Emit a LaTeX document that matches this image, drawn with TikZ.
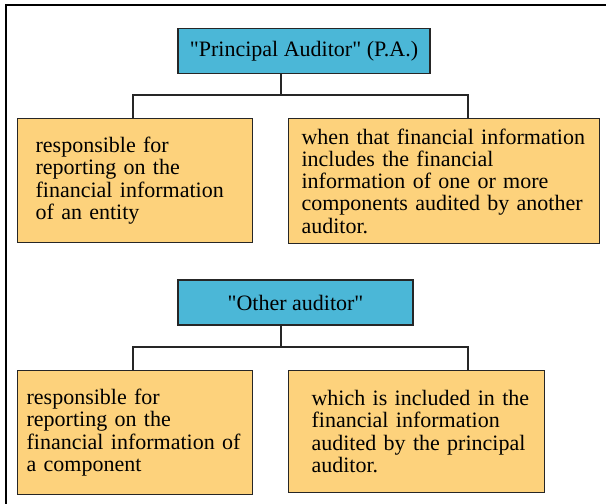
\documentclass[tikz,border=0pt]{standalone}
\usepackage{fontspec}
\setmainfont{Liberation Serif}
\usetikzlibrary{positioning}
\definecolor{headblue}{RGB}{75,183,215}
\definecolor{notefill}{RGB}{253,210,124}

\begin{document}
\begin{tikzpicture}[x=0.5pt,y=-0.5pt,
    every node/.style={font=\fontsize{11}{11.15}\selectfont},
    head/.style={draw=black!85,fill=headblue,line width=0.6pt,inner sep=0pt,minimum height=22.5pt},
    note/.style={draw=black!85,fill=notefill,line width=0.6pt,align=left,anchor=north west,inner ysep=0pt},
    link/.style={draw=black!85,line width=0.6pt},
    frame/.style={draw=black,line width=0.7pt}]
            \useasboundingbox (0,0) rectangle (606,504);
            \draw[frame] (606,5) -- (6,5) -- (6,504);

            \node[head, minimum width=126pt] (PA) at (304,51) {\textquotedbl Principal Auditor\textquotedbl\ (P.A.)};
            \node[note, text width=99.5pt, inner xsep=9pt, minimum height=62pt] (PAentity) at (17,118)
                {responsible for\\reporting on the\\financial information\\of an entity};
            \node[note, text width=142.5pt, inner xsep=6.5pt, minimum height=62.5pt] (PAcomp) at (288,118)
                {when that financial information\\includes the financial\\information of one or more\\components audited by another\\auditor.};

            \node[head, minimum width=117.5pt] (OA) at (295.5,302.5) {\textquotedbl Other auditor\textquotedbl};
            \node[note, text width=108.5pt, inner xsep=4.5pt, minimum height=62pt] (OAcomp) at (17,370)
                {responsible for\\reporting on the\\\mbox{financial information of}\\a component};
            \node[note, text width=105pt, inner xsep=11.5pt, minimum height=61pt] (OAincl) at (288,370)
                {\mbox{which is included in the}\\financial information\\\mbox{audited by the principal}\\auditor.\\[4pt]};

            \coordinate (PAmid) at (281,95);
            \coordinate (PAleft) at (133,95);
            \coordinate (PAright) at (468,95);
            \coordinate (OAmid) at (281,347);
            \coordinate (OAleft) at (133,347);
            \coordinate (OAright) at (468,347);

            \draw[link] (PA.south -| PAmid) -- (PAmid);
            \draw[link] (PAleft |- PAentity.north) -- (PAleft) -- (PAright) -- (PAright |- PAcomp.north);
            \draw[link] (OA.south -| OAmid) -- (OAmid);
            \draw[link] (OAleft |- OAcomp.north) -- (OAleft) -- (OAright) -- (OAright |- OAincl.north);
        \end{tikzpicture}
\end{document}
